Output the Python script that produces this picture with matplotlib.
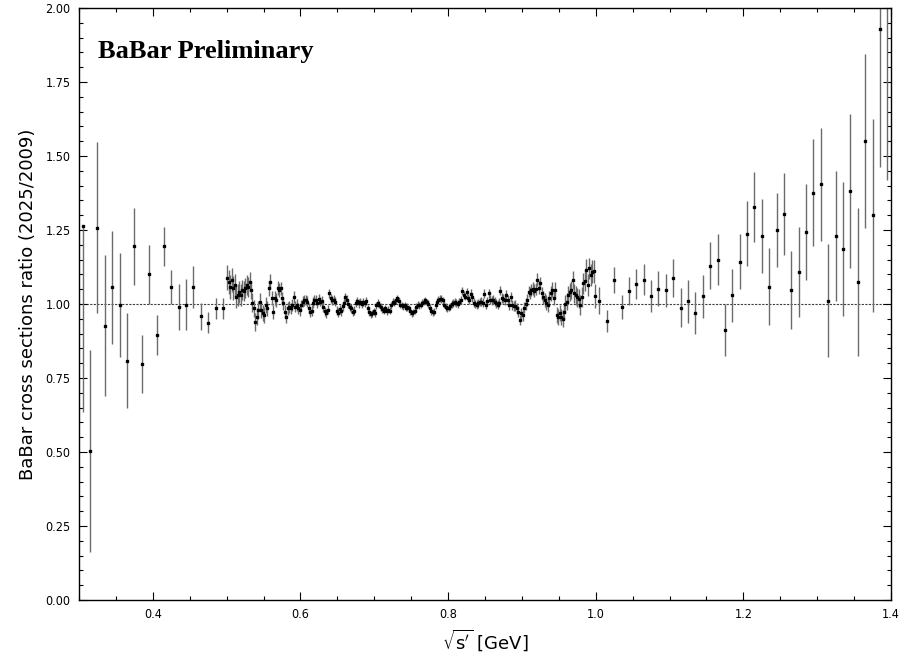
import matplotlib
matplotlib.use("Agg")
import matplotlib.pyplot as plt
import numpy as np
from matplotlib.ticker import MultipleLocator, FormatStrFormatter

# 10 MeV bins below 0.5 GeV
x_low = [0.305, 0.315, 0.325, 0.335, 0.345, 0.355, 0.365, 0.375, 0.385, 0.395,
         0.405, 0.415, 0.425, 0.435, 0.445, 0.455, 0.465, 0.475, 0.485, 0.495]
ratio_low = [1.265, 0.503, 1.258, 0.927, 1.056, 0.997, 0.809, 1.195, 0.798, 1.100,
             0.895, 1.195, 1.057, 0.990, 0.997, 1.057, 0.958, 0.937, 0.985, 0.985]
err_low_dn = [0.63, 0.34, 0.29, 0.237, 0.19, 0.176, 0.16, 0.13, 0.097, 0.099,
              0.068, 0.065, 0.058, 0.078, 0.086, 0.071, 0.047, 0.036, 0.034, 0.034]
err_low_up = [0.0, 0.34, 0.29, 0.237, 0.19, 0.176, 0.16, 0.13, 0.097, 0.099,
              0.068, 0.065, 0.058, 0.078, 0.086, 0.071, 0.047, 0.036, 0.034, 0.034]

# 2 MeV bins, 0.5 - 1.0 GeV (bin centres start at 0.501)
mid_start, mid_step = 0.501, 0.002
ratio_mid = [
    1.089, 1.075, 1.058, 1.080, 1.053, 1.064, 1.025, 1.030, 1.040, 1.030,
    1.047, 1.044, 1.053, 1.064, 1.058, 1.075, 1.047, 1.005, 0.985, 0.940,
    0.957, 0.980, 1.008, 0.980, 0.968, 0.963, 0.997, 0.985, 1.053, 1.075,
    1.019, 0.974, 1.019, 1.013, 1.053, 1.047, 1.053, 1.019, 1.002, 0.974,
    0.957, 0.985, 0.991, 0.985, 0.997, 1.025, 0.991, 0.997, 0.985, 0.980,
    0.997, 1.008, 1.012, 1.014, 1.008, 0.985, 0.972, 0.978, 1.005, 1.012,
    1.013, 1.002, 1.018, 1.008, 1.010, 0.990, 0.975, 0.968, 0.980, 1.036,
    1.020, 1.012, 1.015, 1.008, 0.978, 0.970, 0.982, 0.975, 0.992, 1.005,
    1.022, 1.015, 1.000, 0.990, 0.985, 0.974, 0.978, 1.004, 1.010, 1.002,
    1.008, 1.000, 1.006, 1.002, 1.010, 0.985, 0.972, 0.965, 0.968, 0.975,
    0.970, 0.995, 1.004, 0.998, 0.990, 0.982, 0.978, 0.985, 0.976, 0.980,
    0.978, 0.995, 1.008, 1.005, 1.012, 1.020, 1.010, 0.998, 0.995, 0.992,
    0.996, 0.988, 0.990, 0.985, 0.975, 0.968, 0.972, 0.978, 0.990, 0.997,
    0.995, 0.998, 1.005, 1.008, 1.012, 1.006, 1.000, 0.988, 0.975, 0.972,
    0.974, 0.995, 1.008, 1.015, 1.018, 1.017, 1.012, 0.998, 0.990, 0.985,
    0.988, 0.992, 1.000, 1.003, 1.006, 1.004, 1.000, 1.008, 1.014, 1.045,
    1.030, 1.025, 1.040, 1.020, 1.014, 1.035, 1.022, 1.005, 1.000, 0.998,
    1.002, 1.006, 1.008, 1.005, 1.035, 0.998, 1.010, 1.036, 1.014, 1.012,
    1.015, 1.008, 1.002, 0.998, 1.005, 1.045, 1.020, 1.018, 1.012, 1.030,
    1.014, 0.997, 1.025, 0.998, 0.992, 0.994, 0.985, 0.974, 0.946, 0.968,
    0.962, 0.988, 1.000, 1.014, 1.042, 1.036, 1.048, 1.052, 1.045, 1.050,
    1.082, 1.055, 1.070, 1.036, 1.022, 1.014, 1.005, 0.998, 1.020, 1.036,
    1.048, 1.020, 1.047, 0.963, 0.957, 0.968, 0.955, 0.951, 0.974, 1.000,
    1.008, 1.030, 1.041, 1.047, 1.082, 1.036, 1.030, 1.022, 1.018, 0.997,
    1.025, 1.070, 1.078, 1.115, 1.064, 1.120, 1.098, 1.109, 1.110, 1.027,
]
err_mid = [
    0.042, 0.041, 0.041, 0.040, 0.040, 0.039, 0.038, 0.038, 0.037, 0.036,
    0.035, 0.035, 0.034, 0.033, 0.033, 0.032, 0.031, 0.031, 0.030, 0.030,
    0.029, 0.029, 0.028, 0.028, 0.027, 0.027, 0.026, 0.026, 0.025, 0.025,
    0.024, 0.024, 0.024, 0.023, 0.023, 0.023, 0.022, 0.022, 0.022, 0.021,
    0.021, 0.021, 0.020, 0.020, 0.020, 0.020, 0.019, 0.019, 0.019, 0.019,
    0.018, 0.018, 0.018, 0.018, 0.018, 0.017, 0.017, 0.017, 0.017, 0.017,
    0.016, 0.016, 0.016, 0.016, 0.016, 0.016, 0.016, 0.016, 0.015, 0.015,
    0.015, 0.015, 0.015, 0.015, 0.015, 0.015, 0.015, 0.015, 0.014, 0.014,
    0.014, 0.014, 0.014, 0.014, 0.014, 0.014, 0.014, 0.014, 0.014, 0.014,
    0.013, 0.013, 0.013, 0.013, 0.013, 0.013, 0.013, 0.013, 0.013, 0.013,
    0.013, 0.013, 0.013, 0.013, 0.013, 0.012, 0.012, 0.012, 0.012, 0.012,
    0.012, 0.012, 0.012, 0.012, 0.012, 0.012, 0.012, 0.012, 0.012, 0.012,
    0.012, 0.012, 0.012, 0.012, 0.012, 0.012, 0.012, 0.012, 0.012, 0.012,
    0.012, 0.012, 0.012, 0.012, 0.012, 0.012, 0.012, 0.012, 0.012, 0.012,
    0.012, 0.012, 0.012, 0.012, 0.012, 0.012, 0.012, 0.012, 0.012, 0.012,
    0.013, 0.013, 0.013, 0.013, 0.013, 0.013, 0.013, 0.013, 0.013, 0.013,
    0.013, 0.013, 0.013, 0.013, 0.013, 0.014, 0.014, 0.014, 0.014, 0.014,
    0.014, 0.014, 0.014, 0.014, 0.014, 0.015, 0.015, 0.015, 0.015, 0.015,
    0.015, 0.015, 0.015, 0.016, 0.016, 0.016, 0.016, 0.016, 0.016, 0.016,
    0.017, 0.017, 0.017, 0.017, 0.017, 0.018, 0.018, 0.018, 0.018, 0.018,
    0.019, 0.019, 0.019, 0.020, 0.020, 0.020, 0.020, 0.021, 0.021, 0.021,
    0.022, 0.022, 0.022, 0.023, 0.023, 0.023, 0.024, 0.024, 0.024, 0.025,
    0.025, 0.025, 0.026, 0.026, 0.027, 0.027, 0.027, 0.028, 0.028, 0.029,
    0.029, 0.030, 0.030, 0.031, 0.031, 0.032, 0.032, 0.033, 0.033, 0.034,
    0.034, 0.035, 0.035, 0.036, 0.036, 0.037, 0.037, 0.038, 0.038, 0.039,
]

# 10 MeV bins above 1.0 GeV
x_high = [1.005, 1.015, 1.025, 1.035, 1.045, 1.055, 1.065, 1.075, 1.085, 1.095,
          1.105, 1.115, 1.125, 1.135, 1.145, 1.155, 1.165, 1.175, 1.185, 1.195,
          1.205, 1.215, 1.225, 1.235, 1.245, 1.255, 1.265, 1.275, 1.285, 1.295,
          1.305, 1.315, 1.325, 1.335, 1.345, 1.355, 1.365, 1.375, 1.385, 1.395]
ratio_high = [1.011, 0.943, 1.081, 0.991, 1.043, 1.068, 1.082, 1.026, 1.052, 1.047,
              1.089, 0.987, 1.009, 0.969, 1.026, 1.130, 1.150, 0.912, 1.029, 1.143,
              1.238, 1.329, 1.230, 1.058, 1.250, 1.304, 1.047, 1.108, 1.244, 1.376,
              1.404, 1.011, 1.230, 1.185, 1.381, 1.073, 1.550, 1.300, 1.929, 2.150]
err_high = [0.045, 0.037, 0.044, 0.041, 0.047, 0.051, 0.053, 0.054, 0.060, 0.056,
            0.064, 0.066, 0.072, 0.070, 0.073, 0.080, 0.087, 0.087, 0.089, 0.092,
            0.110, 0.118, 0.125, 0.130, 0.124, 0.139, 0.132, 0.152, 0.162, 0.180,
            0.190, 0.190, 0.220, 0.227, 0.260, 0.250, 0.294, 0.326, 0.465, 0.730]

x_mid = np.round(mid_start + mid_step * np.arange(len(ratio_mid)), 3)
x_all = np.concatenate([x_low, x_mid, x_high])
y_all = np.concatenate([ratio_low, ratio_mid, ratio_high])
e_dn = np.concatenate([err_low_dn, err_mid, err_high])
e_up = np.concatenate([err_low_up, err_mid, err_high])

fig = plt.figure(figsize=(9.04, 6.60), dpi=100)
ax = fig.add_axes([0.0874, 0.0909, 0.8982, 0.897])

ax.axhline(1.0, color="0.25", lw=0.8, ls=(0, (2, 1.2)), zorder=1)
ax.errorbar(x_all, y_all, yerr=[e_dn, e_up], fmt="s", ms=1.6, mfc="black", mec="black",
            ecolor="0.42", elinewidth=1.0, capsize=0, zorder=2)

ax.set_xlim(0.3, 1.4)
ax.set_ylim(0.0, 2.0)
ax.xaxis.set_major_locator(MultipleLocator(0.2))
ax.xaxis.set_minor_locator(MultipleLocator(0.05))
ax.yaxis.set_major_locator(MultipleLocator(0.25))
ax.yaxis.set_minor_locator(MultipleLocator(0.05))
ax.xaxis.set_major_formatter(FormatStrFormatter("%.1f"))
ax.yaxis.set_major_formatter(FormatStrFormatter("%.2f"))
ax.tick_params(which="both", direction="in", top=True, right=True, width=0.8)
ax.tick_params(which="major", length=6, labelsize=9, pad=6)
ax.tick_params(which="minor", length=3)
for lab in ax.get_xticklabels() + ax.get_yticklabels():
    lab.set_fontstretch("condensed")
for sp in ax.spines.values():
    sp.set_linewidth(1.0)

ax.set_xlabel(r"$\sqrt{\mathrm{s}'}$ [GeV]", fontsize=13, labelpad=4)
ax.set_ylabel("BaBar cross sections ratio (2025/2009)", fontsize=13, labelpad=6)

ax.text(0.023, 0.915, "BaBar Preliminary", transform=ax.transAxes,
        family="Liberation Serif", fontweight="bold", fontsize=19, va="baseline")

fig.savefig("out.png", dpi=100)
